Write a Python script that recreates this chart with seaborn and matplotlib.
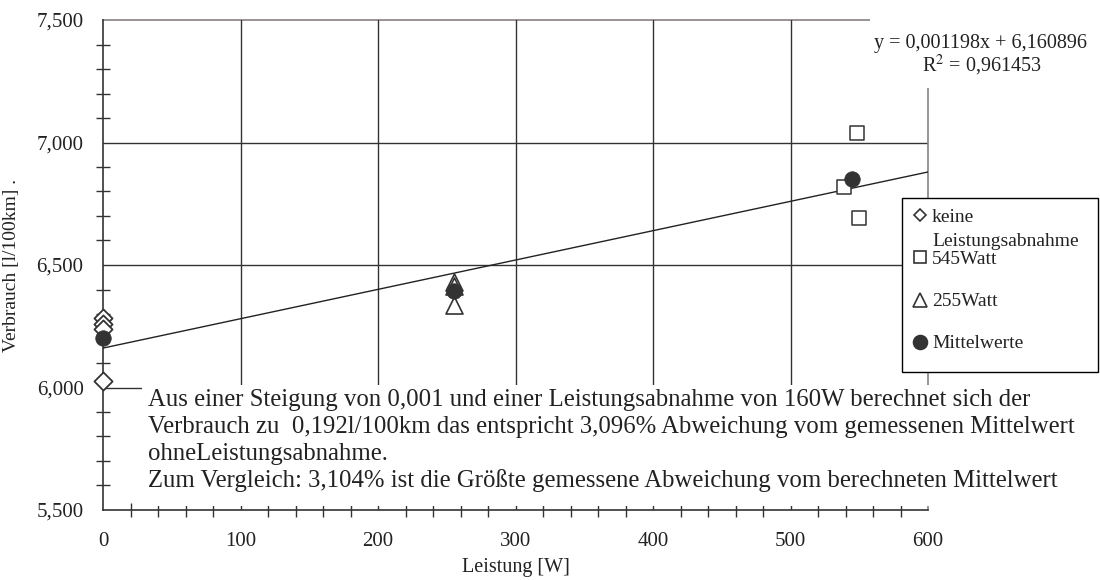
import numpy as np
import pandas as pd
import matplotlib
matplotlib.use("Agg")
import matplotlib.pyplot as plt
import seaborn as sns
from matplotlib.ticker import MultipleLocator, FuncFormatter
from matplotlib.patches import Rectangle
from matplotlib.lines import Line2D

# ---- data ----
keine_x = [0, 0, 0, 0]
keine_y = [6.285, 6.26, 6.24, 6.025]
w545_x = [539, 548, 550]
w545_y = [6.82, 7.04, 6.69]
w255_x = [255, 255, 255]
w255_y = [6.43, 6.415, 6.335]
mittel_x = [0, 255, 545]
mittel_y = [6.203, 6.393, 6.85]
slope = 0.001198
intercept = 6.160896
fit_x = [0, 600]

series_labels = ["keine", "Leistungsabnahme", "545Watt", "255Watt", "Mittelwerte"]
eq_text = "y = 0,001198x + 6,160896"
r2_text = "R$^2$ = 0,961453"
note_lines = ["Aus einer Steigung von 0,001 und einer Leistungsabnahme von 160W berechnet sich der",
              "Verbrauch zu  0,192l/100km das entspricht 3,096% Abweichung vom gemessenen Mittelwert",
              "ohneLeistungsabnahme.",
              "Zum Vergleich: 3,104% ist die Größte gemessene Abweichung vom berechneten Mittelwert"]

sns.set_theme(style="white")
plt.rcParams['font.family'] = ['Liberation Serif', 'DejaVu Serif']
plt.rcParams['mathtext.fontset'] = 'stix'

DARK = "#333333"
TXT = "#222222"
BORDER = "#8a8080"
W, H = 1100, 580
fx = lambda px: px / W
fy = lambda py: 1 - py / H

fig = plt.figure(figsize=(11, 5.8), dpi=100)
ax = fig.add_axes([fx(103), fy(510), 825 / W, 490 / H])
ax.set_xlim(0, 600)
ax.set_ylim(5.5, 7.5)

# grid
for yv in [6.0, 6.5, 7.0]:
    ax.axhline(yv, color=DARK, lw=1, zorder=1)
ax.axhline(7.5, color=BORDER, lw=1.2, zorder=1, clip_on=False)
for xv in [100, 200, 300, 400, 500]:
    ax.axvline(xv, color=DARK, lw=1, zorder=1)
ax.axvline(600, color=BORDER, lw=1.2, zorder=1, clip_on=False)

# regression line
fit_df = pd.DataFrame({"x": fit_x, "y": [slope * v + intercept for v in fit_x]})
sns.lineplot(data=fit_df, x="x", y="y", ax=ax, color="#222222", lw=1, zorder=3)

# white text boxes covering grid
ax.add_patch(Rectangle((fx(142), fy(506)), fx(1100) - fx(142), fy(385) - fy(506),
                       transform=fig.transFigure, facecolor="white", edgecolor="none",
                       zorder=2, clip_on=False))
ax.add_patch(Rectangle((fx(870), fy(88)), fx(1100) - fx(870), fy(5) - fy(88),
                       transform=fig.transFigure, facecolor="white", edgecolor="none",
                       zorder=4, clip_on=False))

sns.scatterplot(x=keine_x, y=keine_y, ax=ax, marker="D", s=85, facecolor="white",
                edgecolor=DARK, linewidth=1.3, zorder=5)
sns.scatterplot(x=w545_x, y=w545_y, ax=ax, marker="s", s=115, facecolor="white",
                edgecolor=DARK, linewidth=1.1, zorder=5)
sns.scatterplot(x=w255_x, y=w255_y, ax=ax, marker="^", s=150, facecolor="white",
                edgecolor=DARK, linewidth=1.2, zorder=5)
sns.scatterplot(x=mittel_x, y=mittel_y, ax=ax, marker="o", s=125, color=DARK,
                edgecolor=DARK, linewidth=0.5, zorder=6)
for c in ax.collections:
    c.set_clip_on(False)

# legend (drawn as figure artists)
fig.add_artist(Rectangle((fx(902), fy(372)), fx(1098) - fx(902), fy(198) - fy(372),
                         transform=fig.transFigure, facecolor="white", edgecolor="black",
                         lw=1, zorder=8))
leg_marks = [("D", 215, 6.5, "white"), ("s", 257, 8.5, "white"),
             ("^", 300, 10, "white"), ("o", 342, 10, DARK)]
for m, py, ms, fc in leg_marks:
    fig.add_artist(Line2D([fx(920)], [fy(py)], marker=m, markersize=ms, markerfacecolor=fc,
                          markeredgecolor=DARK, markeredgewidth=1.2, linestyle="none",
                          transform=fig.transFigure, zorder=9))
for lab, py in zip(series_labels, [215, 240, 257, 300, 342]):
    fig.text(fx(932), fy(py + 6.5), lab, fontsize=14, ha="left", va="baseline",
             color=TXT, zorder=9)

# spines / ticks
for s in ["top", "right"]:
    ax.spines[s].set_visible(False)
for s in ["left", "bottom"]:
    ax.spines[s].set_color(DARK)
    ax.spines[s].set_linewidth(1.2)

ax.xaxis.set_major_locator(MultipleLocator(100))
ax.xaxis.set_minor_locator(MultipleLocator(20))
ax.yaxis.set_major_locator(MultipleLocator(0.5))
ax.yaxis.set_minor_locator(MultipleLocator(0.1))
ax.yaxis.set_major_formatter(FuncFormatter(lambda v, p: f"{v:.3f}".replace(".", ",")))
ax.tick_params(axis="y", which="major", direction="out", length=7, width=1, color=DARK,
               labelsize=15, pad=7)
ax.tick_params(axis="y", which="minor", direction="inout", length=10, width=1, color=DARK, left=True)
ax.tick_params(axis="x", which="major", direction="inout", length=12, width=1, color=DARK,
               labelsize=15, pad=10)
ax.tick_params(axis="x", which="minor", direction="inout", length=10, width=1, color=DARK, bottom=True)
for lab in ax.get_xticklabels() + ax.get_yticklabels():
    lab.set_color(TXT)

ax.set_xlabel("Leistung [W]", fontsize=14.5, color=TXT)
ax.set_ylabel("Verbrauch [l/100km] .", fontsize=14, color=TXT)
ax.xaxis.set_label_coords(0.5, -0.098)
ax.yaxis.set_label_coords(-0.1, 0.5)

fig.text(fx(980), fy(48), eq_text, fontsize=14.5, ha="center", va="baseline", color=TXT, zorder=6)
fig.text(fx(982), fy(72), r2_text, fontsize=14.5, ha="center", va="baseline", color=TXT, zorder=6)

for line, base in zip(note_lines, [406, 433, 460, 487]):
    fig.text(fx(148), fy(base), line, fontsize=17.8, ha="left", va="baseline",
             color=TXT, zorder=7)

fig.savefig("out.png", dpi=100)
